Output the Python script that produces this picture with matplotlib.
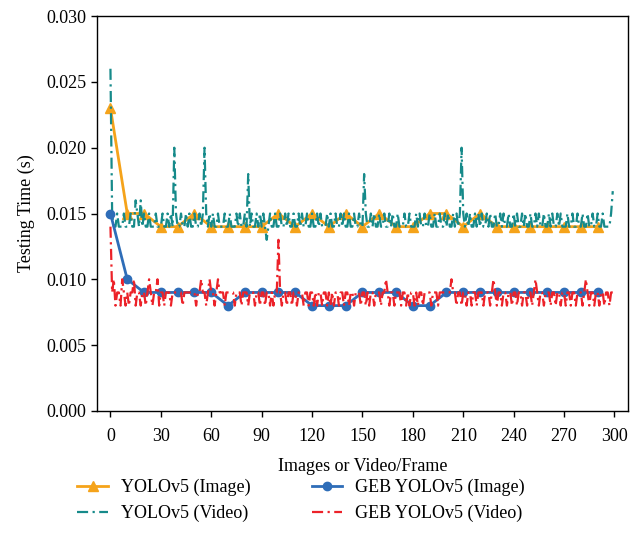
import matplotlib
matplotlib.use("Agg")
import matplotlib.pyplot as plt
import numpy as np

plt.rcParams['font.family'] = ['Liberation Serif', 'DejaVu Serif']

# --- data ---
img_x = list(range(0, 300, 10))
yolo_img_ms = [23, 15, 15, 14, 14, 15, 14, 14, 14, 14,
               15, 14, 15, 14, 15, 14, 15, 14, 14, 15,
               15, 14, 15, 14, 14, 14, 14, 14, 14, 14]
geb_img_ms = [15, 10, 9, 9, 9, 9, 9, 8, 9, 9,
              9, 9, 8, 8, 8, 9, 9, 9, 8, 8,
              9, 9, 9, 9, 9, 9, 9, 9, 9, 9]

yolo_vid_ms = [
    26, 15, 14, 14, 15, 14, 14, 14, 15, 14,
    14, 14, 15, 14, 14, 16, 15, 14, 16, 14,
    15, 14, 14, 15, 14, 14, 14, 15, 14, 14,
    14, 15, 14, 14, 15, 14, 15, 14, 20, 15,
    14, 14, 15, 14, 14, 15, 14, 15, 14, 14,
    15, 14, 14, 15, 14, 15, 20, 15, 14, 15,
    14, 15, 14, 14, 15, 14, 14, 14, 15, 14,
    14, 15, 14, 14, 14, 15, 14, 15, 14, 14,
    15, 14, 18, 14, 15, 14, 14, 15, 14, 15,
    14, 15, 14, 13, 14, 15, 14, 14, 15, 14,
    14, 15, 14, 14, 15, 14, 15, 14, 14, 15,
    14, 14, 15, 14, 15, 14, 14, 15, 14, 14,
    15, 14, 14, 15, 14, 15, 14, 14, 14, 15,
    14, 15, 14, 14, 15, 14, 14, 15, 14, 15,
    14, 14, 15, 14, 14, 15, 14, 14, 15, 14,
    14, 18, 15, 14, 14, 15, 14, 15, 14, 14,
    15, 14, 14, 15, 14, 14, 15, 14, 15, 14,
    14, 15, 14, 14, 14, 15, 14, 14, 15, 14,
    14, 14, 15, 14, 15, 14, 14, 15, 14, 14,
    15, 14, 14, 15, 14, 14, 15, 14, 14, 15,
    14, 15, 14, 14, 15, 14, 15, 14, 15, 20,
    15, 14, 15, 14, 15, 14, 14, 15, 14, 15,
    14, 15, 14, 14, 15, 14, 15, 14, 14, 15,
    14, 14, 15, 14, 15, 14, 14, 15, 14, 14,
    15, 14, 15, 14, 14, 15, 14, 15, 14, 14,
    15, 14, 14, 15, 14, 15, 14, 14, 15, 14,
    14, 15, 14, 15, 14, 14, 15, 14, 15, 14,
    14, 14, 15, 14, 14, 15, 14, 14, 15, 14,
    14, 15, 14, 14, 15, 14, 14, 15, 14, 14,
    15, 14, 14, 15, 14, 14, 14, 14, 15, 16.7,
]

geb_vid_ms = [
    14, 9, 10, 8, 9, 9, 8, 10, 9, 8,
    9, 8, 9, 9, 10, 8, 9, 9, 8, 9,
    9, 8, 9, 10, 9, 8, 9, 9, 10, 8,
    9, 9, 8, 9, 9, 9, 8, 9, 9, 9,
    9, 9, 9, 8, 9, 9, 9, 9, 9, 9,
    9, 8, 9, 9, 10, 9, 9, 8, 9, 10,
    9, 9, 8, 9, 10, 9, 9, 9, 8, 9,
    9, 9, 9, 9, 8, 9, 9, 9, 8, 9,
    9, 9, 8, 9, 9, 9, 8, 9, 9, 8,
    9, 9, 8, 9, 9, 8, 9, 8, 9, 9,
    13, 9, 8, 9, 9, 8, 9, 9, 8, 9,
    9, 8, 9, 9, 9, 8, 9, 9, 8, 9,
    9, 8, 9, 8, 9, 9, 8, 9, 9, 8,
    9, 8, 9, 8, 9, 9, 8, 9, 9, 8,
    9, 9, 8, 9, 9, 8, 9, 9, 9, 8,
    9, 9, 8, 9, 8, 9, 9, 8, 9, 9,
    9, 8, 9, 9, 10, 9, 8, 9, 9, 8,
    9, 9, 9, 8, 9, 9, 8, 9, 8, 9,
    9, 8, 9, 8, 9, 9, 8, 9, 9, 9,
    9, 8, 9, 9, 9, 8, 9, 9, 9, 9,
    9, 9, 9, 10, 9, 9, 8, 9, 9, 8,
    9, 9, 8, 9, 9, 8, 9, 9, 8, 9,
    9, 9, 8, 9, 9, 9, 8, 9, 10, 9,
    8, 9, 9, 8, 9, 9, 8, 9, 9, 8,
    9, 9, 8, 9, 9, 8, 9, 9, 8, 9,
    9, 8, 9, 10, 9, 8, 9, 9, 8, 9,
    9, 9, 8, 9, 9, 8, 9, 9, 8, 9,
    9, 8, 9, 9, 8, 9, 9, 8, 9, 9,
    9, 8, 9, 10, 9, 8, 9, 9, 8, 9,
    9, 8, 9, 9, 8, 9, 9, 8, 9, 9,
]
vid_x = list(range(len(yolo_vid_ms)))

labels = ["YOLOv5 (Image)", "YOLOv5 (Video)", "GEB YOLOv5 (Image)", "GEB YOLOv5 (Video)"]
x_ticks = list(range(0, 301, 30))
y_ticks = [0.000, 0.005, 0.010, 0.015, 0.020, 0.025, 0.030]

# --- plot ---
fig = plt.figure(figsize=(6.32, 5.56), dpi=100)
ax = fig.add_axes([0.1535, 0.261, 0.84, 0.71])

orange = '#F5A31A'
teal = '#168A8A'
blue = '#2E6DB8'
red = '#EC2229'

ax.plot(img_x, np.array(yolo_img_ms) / 1000, color=orange, lw=2, marker='^', ms=7,
        label=labels[0], zorder=2)
ax.plot(vid_x, np.array(yolo_vid_ms) / 1000, color=teal, lw=1.6,
        linestyle=(0, (5, 2, 1, 2)), label=labels[1], zorder=3)
ax.plot(img_x, np.array(geb_img_ms) / 1000, color=blue, lw=2, marker='o', ms=6,
        label=labels[2], zorder=4)
ax.plot(vid_x, np.array(geb_vid_ms) / 1000, color=red, lw=1.6,
        linestyle=(0, (5, 2, 1, 2)), label=labels[3], zorder=5)

ax.set_xlim(-8, 308)
ax.set_ylim(0, 0.030)
ax.set_xticks(x_ticks)
ax.set_yticks(y_ticks)
ax.set_yticklabels([f"{v:.3f}" for v in y_ticks])
ax.tick_params(labelsize=13, direction='out', length=4, width=1)
ax.tick_params(axis='x', pad=8)
for s in ax.spines.values():
    s.set_linewidth(1)
ax.set_xlabel("Images or Video/Frame", fontsize=13, labelpad=10)
ax.set_ylabel("Testing Time (s)", fontsize=13, labelpad=8)

fig.legend(loc='upper center', bbox_to_anchor=(0.476, 0.168), ncol=2, frameon=False,
           fontsize=13, handlelength=1.7, columnspacing=3.4, labelspacing=0.5,
           handletextpad=0.7)

fig.savefig("out.png", dpi=100)
